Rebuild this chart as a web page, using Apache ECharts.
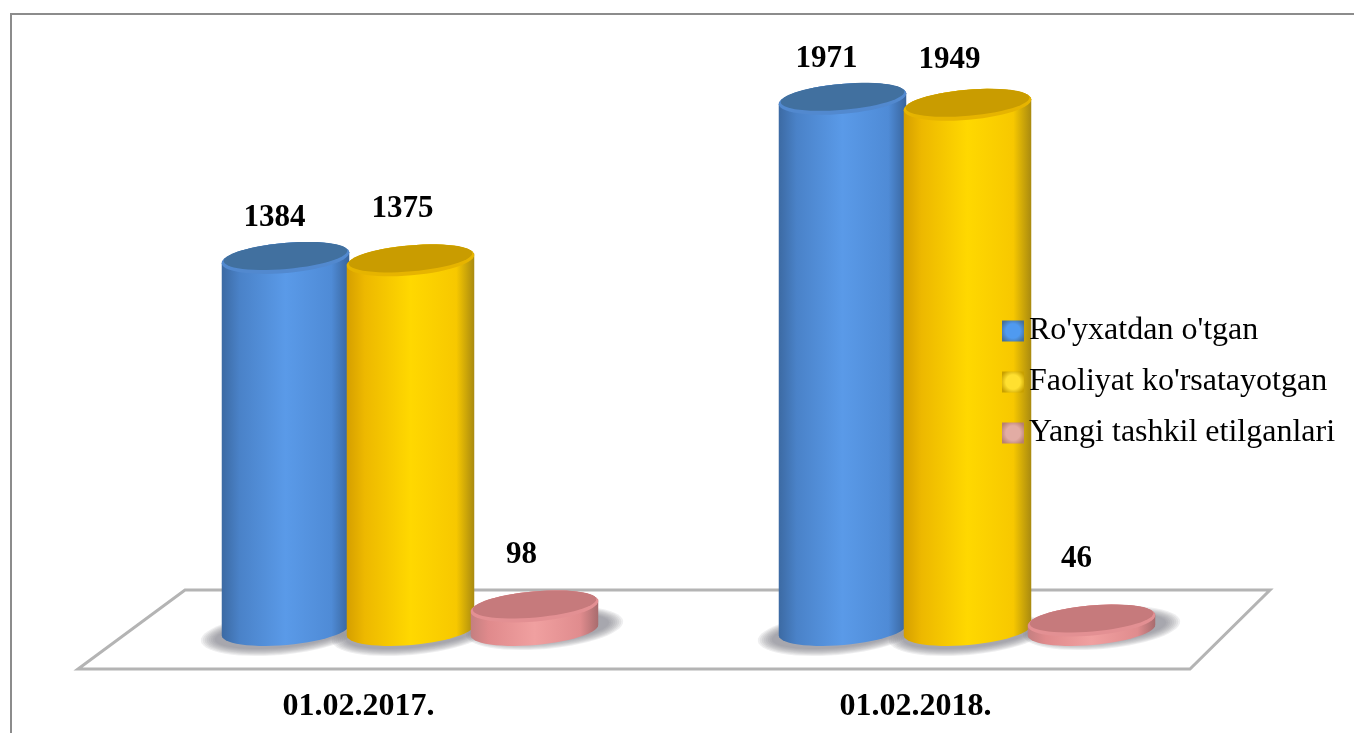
<!DOCTYPE html>
<html><head><meta charset="utf-8">
<style>html,body{margin:0;padding:0;background:#fff}#c{width:1354px;height:733px}</style>
<script src="https://cdn.jsdelivr.net/npm/echarts@6/dist/echarts.min.js"></script>
</head><body><div id="c"></div>
<script>
const categories = ['01.02.2017.', '01.02.2018.'];
const registered = [1384, 1971];
const active = [1375, 1949];
const newlyCreated = [98, 46];
const seriesNames = ["Ro'yxatdan o'tgan", "Faoliyat ko'rsatayotgan", "Yangi tashkil etilganlari"];

// Styling / layout constants
const PALETTE = [
  {side:['#3c6aa3','#4a82c8','#5a9ae8','#4f8bd6','#38649c'], top:'#41709f', rim:'#5289cf', legend:['#4f9af0','#46709a']},
  {side:['#d59f00','#edb800','#ffd800','#f7c800','#a98a10'], top:'#c99c00', rim:'#e6b400', legend:['#ffe030','#c8a000']},
  {side:['#c47f80','#e08a8c','#f0a0a0','#e08c8e','#a86c6e'], top:'#c67a7c', rim:'#e39093', legend:['#e2aca4','#b88070']}
];
const SIDE_STOPS = [0, 0.14, 0.5, 0.86, 1];
const BAND_OFFSET = [-125, 0, 124];
const HALF_W = 64, RY = 15, TILT = -5 * Math.PI / 180, BASE_LIFT = 3;
// label nudges from the bar's top centre: [series][category]
const LABEL_NUDGE = [
  [[-11,-40],[-16,-40]],
  [[-8,-51],[-18,-45]],
  [[-13,-51],[-15,-62]]
];

function ellPoint(cx, cy, a, b, t) {
  const x = a * Math.cos(t), y = b * Math.sin(t);
  return [cx + x * Math.cos(TILT) - y * Math.sin(TILT), cy + x * Math.sin(TILT) + y * Math.cos(TILT)];
}
function arc(cx, cy, a, b, from, to, n) {
  const pts = [];
  for (let i = 0; i <= n; i++) pts.push(ellPoint(cx, cy, a, b, from + (to - from) * i / n));
  return pts;
}
function hGrad(stops) {
  return {type:'linear', x:0, y:0, x2:1, y2:0,
    colorStops: stops.map((c, i) => ({offset: SIDE_STOPS[i], color: c}))};
}
function cylinder(si) {
  return function (params, api) {
    const cat = api.value(0), val = api.value(1);
    const base = api.coord([cat, 0]), top = api.coord([cat, val]);
    const cx = base[0] + BAND_OFFSET[si], by = base[1] - BASE_LIFT, ty = top[1];
    const p = PALETTE[si];
    const sil = arc(cx, ty, HALF_W, RY, Math.PI, 2 * Math.PI, 28)
      .concat(arc(cx, by, HALF_W, RY, 0, Math.PI, 28));
    const nudge = LABEL_NUDGE[si][cat];
    return {type:'group', children:[
      {type:'polygon', shape:{points:sil}, style:{fill:hGrad(p.side)}},
      {type:'polygon', shape:{points:arc(cx, ty, HALF_W, RY, 0, 2 * Math.PI, 56)}, style:{fill:p.rim}},
      {type:'polygon', shape:{points:arc(cx, ty - 2, HALF_W - 2, RY - 2, 0, 2 * Math.PI, 56)}, style:{fill:p.top}},
      {type:'text', x: cx + nudge[0], y: ty + nudge[1], style:{
        text:String(val), fill:'#000', font:'bold 31px "Liberation Serif"', align:'center', verticalAlign:'middle'}}
    ]};
  };
}
// Soft floor shadow: stacked translucent ellipses fading outward
function floorShadow(params, api) {
  const cat = api.value(0), si = api.value(1);
  const base = api.coord([cat, 0]);
  const cx = base[0] + BAND_OFFSET[si] + [-6, 0, 10][si];
  const cy = base[1] + [1, 1, -5][si];
  const children = [];
  for (let k = 0; k < 8; k++) {
    children.push({type:'polygon',
      shape:{points:arc(cx, cy, HALF_W + 15 - k * 2, RY + 6 - k, 0, 2 * Math.PI, 56)},
      style:{fill:'rgba(120,125,130,0.12)'}});
  }
  return {type:'group', children};
}
function legendFill(c) {
  return {type:'radial', x:0.5, y:0.5, r:0.62, colorStops:[
    {offset:0, color:c[0]}, {offset:0.55, color:c[0]}, {offset:1, color:c[1]}]};
}

const option = {
  backgroundColor:'#fff',
  animation:false,
  grid:{left:132, width:1114, top:91, height:542},
  xAxis:{type:'category', data:categories, axisLine:{show:false}, axisTick:{show:false}, splitLine:{show:false},
    axisLabel:{margin:58, color:'#000', fontFamily:'Liberation Serif', fontWeight:'bold', fontSize:32, padding:[0,104,0,0], interval:0}},
  yAxis:{type:'value', min:0, max:2000, show:false, splitLine:{show:false}},
  legend:{orient:'vertical', left:1002, top:315, padding:0, itemWidth:22, itemHeight:21, itemGap:19, selectedMode:false,
    textStyle:{fontFamily:'Liberation Serif', fontSize:32, color:'#000', padding:[0,0,0,0]},
    data:seriesNames.map((n, i) => ({name:n, icon:'rect', itemStyle:{color:legendFill(PALETTE[i].legend)}}))},
  graphic:[
    {type:'polyline', z:0, shape:{points:[[11,733],[11,14],[1354,14]]}, style:{stroke:'#8c8c8c', lineWidth:2, fill:null}},
    {type:'polygon', z:0, shape:{points:[[185,590],[1270,590],[1190,669],[78,669]]},
      style:{fill:'#fff', stroke:'#b4b4b4', lineWidth:3}}
  ],
  series:[
    {name:'floor shadow', type:'custom', z:1, silent:true, renderItem:floorShadow,
      data:categories.flatMap((c, ci) => seriesNames.map((n, si) => [ci, si]))},
    ...[registered, active, newlyCreated].map((vals, si) => ({
      name:seriesNames[si], type:'custom', z:2 + si, renderItem:cylinder(si),
      itemStyle:{color:PALETTE[si].legend[0]},
      encode:{x:0, y:1},
      data:vals.map((v, ci) => [ci, v])
    }))
  ]
};
const chart = echarts.init(document.getElementById('c'), null, {renderer:'canvas'});
chart.setOption(option);
</script></body></html>
